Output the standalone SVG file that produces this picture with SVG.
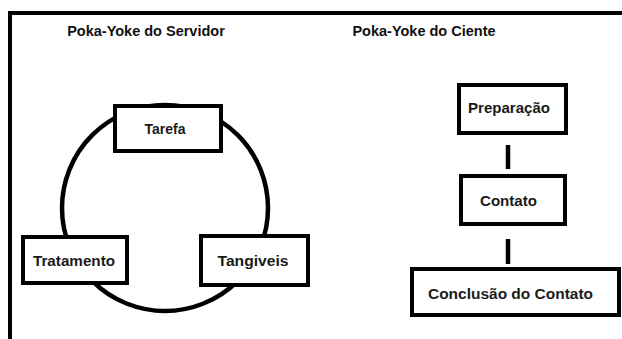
<svg xmlns="http://www.w3.org/2000/svg" width="622" height="339" viewBox="0 0 622 339">
<style>
.box{fill:#fff;stroke:#000;stroke-width:4}
.lbl{font-family:"Liberation Sans",Arial,sans-serif;font-weight:bold;font-size:14px;fill:#1a1a1a;text-anchor:middle}
.ttl{font-family:"Liberation Sans",Arial,sans-serif;font-weight:bold;font-size:14.5px;fill:#111;text-anchor:middle}
.con{stroke:#000;stroke-width:4.5;fill:none}
</style>
<rect width="622" height="339" fill="#fff"/>
<path d="M10 339 V13 H622" fill="none" stroke="#000" stroke-width="4"/>
<text class="ttl" x="146" y="36">Poka-Yoke do Servidor</text>
<text class="ttl" x="424" y="36">Poka-Yoke do Ciente</text>
<g id="connectors">
<circle class="con" cx="165" cy="208" r="103" stroke-width="4"/>
<line class="con" x1="508" y1="145" x2="508" y2="169"/>
<line class="con" x1="508" y1="239" x2="508" y2="264"/>
</g>
<g id="tarefa"><rect class="box" x="115" y="106" width="106" height="45"/><text class="lbl" x="165" y="134">Tarefa</text></g>
<g id="tratamento"><rect class="box" x="23" y="237" width="104" height="46"/><text class="lbl" x="74" y="266" textLength="82" lengthAdjust="spacingAndGlyphs">Tratamento</text></g>
<g id="tangiveis"><rect class="box" x="201" y="236" width="107" height="49"/><text class="lbl" x="253" y="266" textLength="71" lengthAdjust="spacingAndGlyphs">Tangiveis</text></g>
<g id="preparacao"><rect class="box" x="459" y="85" width="107" height="48"/><text class="lbl" x="509" y="113" textLength="82" lengthAdjust="spacingAndGlyphs">Preparação</text></g>
<g id="contato"><rect class="box" x="461" y="176" width="104" height="48"/><text class="lbl" x="508.5" y="206" textLength="57" lengthAdjust="spacingAndGlyphs">Contato</text></g>
<g id="conclusao"><rect class="box" x="412" y="269" width="207" height="46"/><text class="lbl" x="510.5" y="299" textLength="165" lengthAdjust="spacingAndGlyphs">Conclusão do Contato</text></g>
</svg>
